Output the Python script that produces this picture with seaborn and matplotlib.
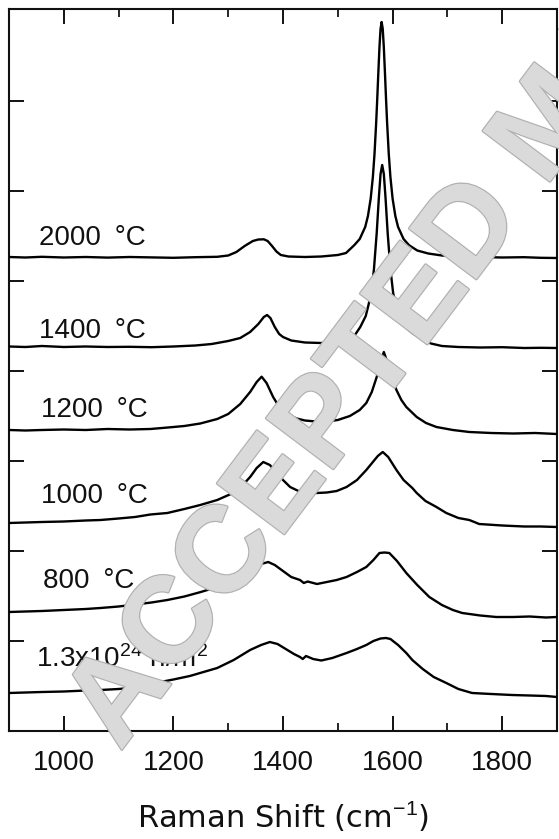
import matplotlib
matplotlib.use("Agg")
import matplotlib.pyplot as plt
import matplotlib.patheffects as pe
import numpy as np
import pandas as pd
import seaborn as sns

# ---------------- data ----------------
# Raman shift (cm^-1) and offset intensity (arb. units) for each spectrum
shift_2000 = [900, 930, 960, 1000, 1040, 1080, 1120, 1160, 1200, 1240, 1280, 1300, 1315, 1330,
              1345, 1355, 1365, 1372, 1380, 1388, 1396, 1410, 1440, 1470, 1500, 1515, 1530, 1540,
              1550, 1555, 1560, 1564, 1567, 1570, 1572, 1574, 1576, 1578, 1580, 1582, 1584, 1586,
              1588, 1590, 1593, 1596, 1600, 1605, 1610, 1620, 1630, 1645, 1665, 1690, 1720, 1760,
              1800, 1840, 1870, 1900]
int_2000 = [474, 473.5, 474.2, 473.5, 474, 473.4, 474, 473.6, 473.2, 473.8, 474.2, 475.5, 479, 485,
            490, 491.5, 491.7, 490, 485, 479.5, 476, 474.5, 474, 474.5, 476, 478, 485.8, 492,
            504, 515, 532.4, 554, 577.2, 608, 632.4, 658.7, 683.6, 702.1, 709, 702.1, 683.6, 658.7,
            632.4, 608, 577.2, 554, 532.4, 515, 504, 492, 485.8, 480.5, 477.5, 475.5, 474.5, 474,
            473.5, 473.8, 473.2, 473]

shift_1400 = [900, 930, 960, 1000, 1040, 1080, 1120, 1160, 1200, 1240, 1270, 1300, 1322, 1340,
              1355, 1365, 1371, 1377, 1385, 1393, 1400, 1415, 1440, 1470, 1500, 1520, 1530, 1541,
              1551, 1556, 1561, 1566, 1571, 1575, 1578, 1581, 1584, 1587, 1591, 1596, 1601, 1606,
              1611, 1621, 1636, 1650, 1670, 1690, 1720, 1760, 1800, 1840, 1870, 1900]
int_1400 = [384.5, 384, 385, 384, 384.5, 384, 384.2, 383.8, 384.5, 385.5, 387, 390, 393, 399,
            407, 414, 416, 413, 404, 397, 394, 390.5, 388.5, 388, 389.5, 392, 395, 404,
            415, 426, 438, 462, 498, 534, 557, 566, 557, 534, 498, 462, 438, 426,
            415, 405, 398, 393, 387.5, 385, 384, 383.5, 383.8, 383, 383.2, 383]

shift_1200 = [900, 930, 960, 1000, 1040, 1080, 1120, 1158, 1190, 1220, 1249, 1280, 1300, 1322,
              1340, 1352, 1361, 1370, 1382, 1392, 1400, 1413, 1425, 1440, 1460, 1480, 1500, 1522,
              1540, 1552, 1562, 1571, 1578, 1584, 1591, 1599, 1607, 1616, 1625, 1644, 1661, 1680,
              1710, 1740, 1780, 1820, 1860, 1900]
int_1200 = [301, 300.5, 301, 301.5, 301, 302, 301.5, 302, 303.5, 305, 307.5, 312, 317, 327,
            339, 349, 354.3, 348, 334, 325, 320, 315, 312.5, 310.5, 309.5, 309.5, 311, 315,
            321, 328, 339, 354, 369, 379, 368, 353, 341, 331, 324, 314, 308, 304,
            301, 299, 298, 297.5, 298, 297]

shift_1000 = [900, 930, 960, 1000, 1040, 1067, 1100, 1130, 1158, 1189, 1220, 1249, 1280, 1309,
              1325, 1340, 1352, 1364, 1376, 1389, 1400, 1413, 1430, 1445, 1462, 1480, 1498, 1516,
              1535, 1552, 1564, 1573, 1582, 1592, 1607, 1620, 1636, 1644, 1660, 1680, 1698, 1720,
              1740, 1758, 1800, 1840, 1870, 1900]
int_1000 = [208, 208.5, 209, 209.5, 210.5, 211, 212.5, 214, 216.5, 218, 222, 226, 231, 238,
            245, 254, 263, 269, 266, 258, 251, 244, 239.5, 238, 238, 238.5, 240, 244,
            251, 261, 269, 275, 279, 274, 261, 251, 243, 238, 230, 224, 218, 213,
            211, 207, 205.5, 204.5, 204.5, 204]

shift_800 = [900, 930, 960, 1000, 1040, 1067, 1100, 1130, 1160, 1189, 1220, 1250, 1280, 1310,
             1340, 1360, 1373, 1385, 1400, 1415, 1431, 1438, 1445, 1462, 1480, 1498, 1516, 1535,
             1552, 1565, 1576, 1585, 1594, 1608, 1625, 1645, 1667, 1690, 1710, 1727, 1760, 1789,
             1820, 1850, 1880, 1900]
int_800 = [119, 119.5, 120, 121, 122, 123, 124.5, 126.5, 128.5, 131, 134.5, 139, 144, 151,
           161, 167, 169, 166, 160, 154, 151, 148, 149.5, 147, 149, 151, 154, 159,
           164, 171, 178, 178.5, 178, 170, 158, 146, 134, 126, 121, 118, 115.5, 114,
           114, 114.5, 113.5, 114]

shift_irr = [900, 930, 960, 1000, 1040, 1067, 1100, 1130, 1167, 1200, 1230, 1255, 1280, 1310,
             1340, 1360, 1376, 1390, 1405, 1420, 1431, 1436, 1442, 1455, 1470, 1490, 1516, 1535,
             1552, 1565, 1578, 1588, 1596, 1610, 1625, 1636, 1655, 1675, 1698, 1720, 1745, 1780,
             1818, 1850, 1880, 1900]
int_irr = [38, 38.5, 39, 39.5, 40.5, 41, 42, 43.5, 48, 51.5, 55, 59, 63, 71,
           81, 86, 89, 87, 82, 77, 74, 72, 75, 72, 70.5, 73, 78, 82,
           86, 90, 92.5, 93, 92, 86, 78, 71, 62, 54, 48, 42, 38, 37,
           36, 35.5, 35, 34]

sample_names = ["2000\u2002\u00b0C", "1400\u2002\u00b0C", "1200\u2002\u00b0C", "1000\u2002\u00b0C",
                "800\u2002\u00b0C", "1.3x10$^{24}$ n/m$^{2}$"]
x_major = [1000, 1200, 1400, 1600, 1800]
x_minor = [1100, 1300, 1500, 1700]
y_ticks = [90, 180, 270, 360, 450, 540, 630]

series = [(sample_names[0], shift_2000, int_2000),
          (sample_names[1], shift_1400, int_1400),
          (sample_names[2], shift_1200, int_1200),
          (sample_names[3], shift_1000, int_1000),
          (sample_names[4], shift_800, int_800),
          (sample_names[5], shift_irr, int_irr)]

df = pd.concat([pd.DataFrame({"shift": s, "intensity": v, "sample": n}) for n, s, v in series],
               ignore_index=True)

# ---------------- styling ----------------
sns.set_theme(style="ticks")
plt.rcParams["font.family"] = ["Liberation Sans", "DejaVu Sans"]
plt.rcParams["mathtext.fontset"] = "custom"
plt.rcParams["mathtext.rm"] = "Liberation Sans"
plt.rcParams["mathtext.it"] = "Liberation Sans:italic"
plt.rcParams["mathtext.bf"] = "Liberation Sans:bold"

fig = plt.figure(figsize=(5.59, 8.39), dpi=100)
fig.patch.set_facecolor("white")
ax = fig.add_axes([9 / 559, 1 - 731 / 839, 548 / 559, 722 / 839])

sns.lineplot(data=df, x="shift", y="intensity", units="sample", estimator=None, sort=False,
             color="black", linewidth=1.7, ax=ax, legend=False, zorder=4)

ax.set_xlim(900, 1900)
ax.set_ylim(0, 722)
ax.set_xticks(x_major)
ax.set_xticks(x_minor, minor=True)
ax.set_yticks(y_ticks)
ax.set_yticklabels([])
ax.tick_params(axis="both", which="major", direction="in", length=10.8, width=1.4,
               top=True, right=True, labelsize=20, colors="#111111", pad=14)
ax.tick_params(axis="x", which="minor", direction="in", length=5.8, width=1.4,
               top=True, bottom=True)
for sp in ax.spines.values():
    sp.set_linewidth(1.5)
    sp.set_color("#111111")
    sp.set_visible(True)

ax.set_xlabel("Raman Shift (cm$^{-1}$)", fontsize=22, labelpad=16, color="#111111",
              family=["DejaVu Sans"])
ax.set_ylabel("")

# sample labels (left of each trace)
label_pos = [(954, 486), (954, 393), (958, 314), (958, 228), (962, 143), (949, 64)]
for name, (lx, ly) in zip(sample_names, label_pos):
    ax.text(lx, ly, name, fontsize=20, ha="left", va="baseline", color="#111111", zorder=2)

# "ACCEPTED MANUSCRIPT" watermark of the reference
wm = fig.text(120 / 559, 1 - 752 / 839, "ACCEPTED MANUSCRIPT", fontsize=88, fontweight="bold",
              rotation=53, rotation_mode="anchor", ha="left", va="baseline",
              color="#dadada", transform=fig.transFigure)
wm.set_path_effects([pe.withStroke(linewidth=2, foreground="#b2b2b2"), pe.Normal()])
wm.set_zorder(3)
ax.set_zorder(1)
ax.patch.set_alpha(0)

fig.savefig("out.png", dpi=100, facecolor="white")
